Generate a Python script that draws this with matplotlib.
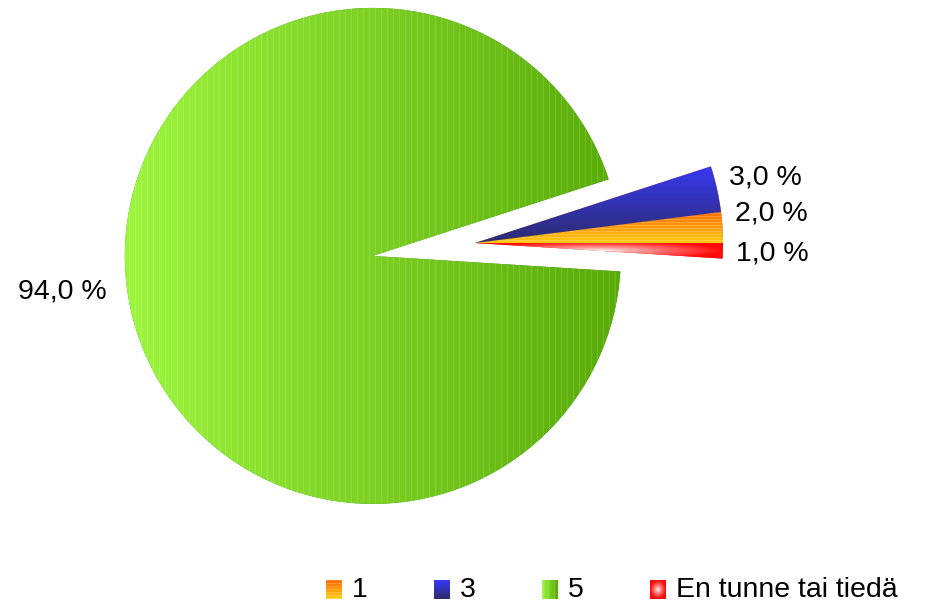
import numpy as np
import matplotlib.pyplot as plt
from matplotlib.colors import to_rgb

plt.rcParams['font.family'] = ['Liberation Sans', 'DejaVu Sans']

categories = ['1', '3', '5', 'En tunne tai tiedä']
values = [2.0, 3.0, 94.0, 1.0]
explode_px = [0, 0, 103, 0]  # only the big slice is pulled out

W, H = 949, 606
fig = plt.figure(figsize=(W / 100, H / 100), dpi=100)
ax = fig.add_axes([0, 0, 1, 1])

center = (475, H - 243)
radius = 248
wedges, _ = ax.pie(values, explode=explode_px, radius=radius, center=center,
                   startangle=0, counterclock=True,
                   wedgeprops=dict(linewidth=0))


def lerp(c0, c1, t):
    c0, c1 = np.array(to_rgb(c0)), np.array(to_rgb(c1))
    t = np.clip(t, 0, 1)[..., None]
    return c0 * (1 - t) + c1 * t


def texture(kind, w, h):
    # returns an (h, w, 3) image, row 0 is the top
    xs = np.linspace(0, 1, w)[None, :] * np.ones((h, 1))
    ys = np.linspace(0, 1, h)[:, None] * np.ones((1, w))
    if kind == '1':
        img = lerp('#ff6a00', '#ffcc10', ys)
        rows = np.arange(h) % 3 == 0
        img[rows] = img[rows] * 0.8 + 0.2
    elif kind == '3':
        img = lerp('#3838f4', '#2c2c6c', ys)
    elif kind == '5':
        img = lerp('#9ef63e', '#58aa06', xs)
        cols = np.arange(w) % 6 == 0
        img[:, cols] = img[:, cols] * 0.85 + 0.15
    else:
        r = np.sqrt(((xs - 0.5) / 0.5) ** 2 + ((ys - 0.5) / 0.5) ** 2)
        img = lerp('#ffffff', '#ff0a0a', r ** 0.8)
    return img


for w, cat in zip(wedges, categories):
    bb = w.get_path().get_extents(w.get_patch_transform())
    x0, y0 = np.floor(bb.x0) - 1, np.floor(bb.y0) - 1
    nw, nh = int(np.ceil(bb.x1) + 1 - x0), int(np.ceil(bb.y1) + 1 - y0)
    im = ax.imshow(texture(cat, nw, nh), extent=(x0, x0 + nw, y0, y0 + nh),
                   origin='upper', interpolation='nearest', aspect='auto',
                   zorder=2)
    im.set_clip_path(w)

# data labels
lbl = [f'{v:.1f} %'.replace('.', ',') for v in values]
txt = dict(fontsize=20.5, color='black', va='center')
ax.text(62, H - 292, lbl[2], ha='center', **txt)
right_y = {'3': 177, '1': 214, 'En tunne tai tiedä': 253}
right_x = {'3': 729, '1': 735, 'En tunne tai tiedä': 736}
for cat, s in zip(categories, lbl):
    if cat in right_y:
        ax.text(right_x[cat], H - right_y[cat], s, ha='left', **txt)

# legend with gradient swatches
leg_x, leg_step, leg_y = 326, 108, H - 590
for i, cat in enumerate(categories):
    sx = leg_x + i * leg_step
    ax.imshow(texture(cat, 16, 19), extent=(sx, sx + 16, leg_y - 9, leg_y + 10),
              origin='upper', interpolation='bilinear', aspect='auto', zorder=3)
    ax.text(sx + 26, leg_y, cat, ha='left', **txt)

ax.set_xlim(0, W)
ax.set_ylim(0, H)
ax.set_aspect('auto')
ax.axis('off')

plt.savefig('out.png', dpi=100)
